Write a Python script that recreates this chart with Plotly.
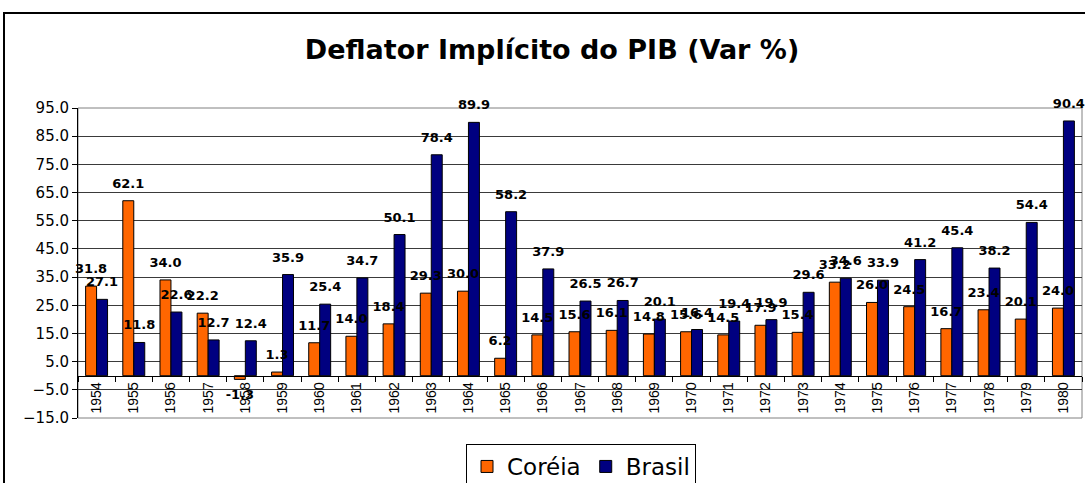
import plotly.graph_objs as go

# data
anos = [str(a) for a in range(1954, 1981)]
coreia = [31.8, 62.1, 34.0, 22.2, -1.3, 1.3, 11.7, 14.0, 18.4, 29.3, 30.0, 6.2, 14.5, 15.6,
          16.1, 14.8, 15.6, 14.5, 17.9, 15.4, 33.2, 26.0, 24.5, 16.7, 23.4, 20.1, 24.0]
brasil = [27.1, 11.8, 22.6, 12.7, 12.4, 35.9, 25.4, 34.7, 50.1, 78.4, 89.9, 58.2, 37.9, 26.5,
          26.7, 20.1, 16.4, 19.4, 19.9, 29.6, 34.6, 33.9, 41.2, 45.4, 38.2, 54.4, 90.4]
y_ticks = [-15 + 10 * i for i in range(12)]

series = [("Coréia", coreia, "#FF6600"), ("Brasil", brasil, "#000080")]
label_font = dict(family="DejaVu Sans", size=13, color="black")

fig = go.Figure()
for nome, vals, cor in series:
    fig.add_trace(go.Bar(
        x=anos, y=vals, name=nome, offsetgroup=nome,
        marker=dict(color=cor, line=dict(color="black", width=1)),
    ))
# value labels drawn last so the neighbour bars don't cover them;
# an invisible marker pushes the text a bit away from the bar end
for nome, vals, cor in series:
    fig.add_trace(go.Scatter(
        x=anos, y=vals, mode="markers+text", offsetgroup=nome, showlegend=False,
        marker=dict(size=14, color="rgba(0,0,0,0)"),
        text=[f"<b>{v:.1f}</b>" for v in vals],
        textposition=["top center" if v >= 0 else "bottom center" for v in vals],
        textfont=label_font, cliponaxis=False, hoverinfo="skip",
    ))

# figure is taller than the window (legend gets cut like in the original);
# plot area x 78..1082, y 108..418 (px)
H = 510
fig.update_layout(
    width=1085, height=H,
    margin=dict(l=78, r=3, t=108, b=H - 418),
    paper_bgcolor="white", plot_bgcolor="white",
    barmode="group", bargap=0.41, bargroupgap=0,
    scattermode="group", scattergap=0.41,
    title=dict(text="<b>Deflator Implícito do PIB (Var %)</b>",
               font=dict(family="DejaVu Sans", size=27, color="black"),
               x=552 / 1085, xanchor="center", y=1 - 50 / H, yanchor="middle"),
    showlegend=True,
    legend=dict(orientation="h", x=(581 - 78) / 1004, xanchor="center",
                y=(418 - 444) / 310, yanchor="top",
                font=dict(family="DejaVu Sans", size=23, color="black"),
                bordercolor="black", borderwidth=1, bgcolor="white",
                itemwidth=30),
)

fig.update_xaxes(
    type="category", anchor="free", position=15 / 110,
    showline=True, linecolor="black", linewidth=1,
    ticks="outside", tickson="boundaries", ticklen=5, tickcolor="black",
    tickangle=-90, tickfont=dict(family="Arial", size=14, color="black"),
    showgrid=False, automargin=False,
)
fig.update_yaxes(
    range=[-15, 95], tickvals=y_ticks, tickformat=".1f",
    showline=True, linecolor="black", linewidth=1,
    ticks="outside", ticklen=5, tickcolor="black",
    tickfont=dict(family="DejaVu Sans", size=15, color="black"),
    showgrid=True, gridcolor="#3a3a3a", gridwidth=1,
    zeroline=False, automargin=False,
)

# plot area frame and outer chart border
fig.add_shape(type="rect", xref="paper", yref="paper", x0=0, x1=1, y0=0, y1=1,
              line=dict(color="#808080", width=1), layer="below")
fig.add_shape(type="rect", xref="paper", yref="paper",
              x0=(4 - 78) / 1004, x1=(1095 - 78) / 1004,
              y0=(418 - 530) / 310, y1=(418 - 13) / 310,
              line=dict(color="black", width=2))

# drop the page's default body margin and scrollbars so the figure sits at the window's corner
fig.write_html("out.html", config={"displayModeBar": False},
               post_script="document.body.style.margin='0';document.body.style.overflow='hidden';")
